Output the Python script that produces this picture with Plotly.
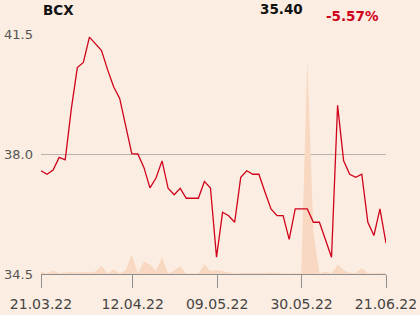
import plotly.graph_objects as go

# ---- data ----
idx = list(range(58))
price = [37.51, 37.41, 37.53, 37.90, 37.83, 39.30, 40.52, 40.67, 41.41, 41.22,
         41.02, 40.46, 39.96, 39.62, 38.82, 38.01, 38.00, 37.61, 37.01, 37.30,
         37.80, 37.00, 36.81, 37.00, 36.71, 36.71, 36.71, 37.20, 37.01, 34.99,
         36.30, 36.20, 36.01, 37.32, 37.51, 37.41, 37.41, 36.89, 36.40, 36.20,
         36.20, 35.51, 36.40, 36.40, 36.40, 36.01, 36.01, 35.50, 34.99, 39.42,
         37.80, 37.41, 37.32, 37.41, 36.01, 35.62, 36.40, 35.40]
volume = [2000, 500, 3500, 1000, 1500, 2000, 1500, 2000, 1500, 2500,
          8000, 500, 4500, 500, 4000, 19500, 500, 12500, 9500, 3000,
          16500, 500, 3500, 7500, 500, 500, 500, 9500, 3000, 4000,
          3000, 1500, 500, 1000, 1000, 500, 500, 1000, 1500, 1000,
          500, 500, 1000, 500, 214000, 43000, 500, 2500, 500, 9500,
          4000, 1000, 1000, 6000, 500, 1000, 1000, 500]
tick_pos = [0, 15.15, 29.1, 43.05, 57]
tick_text = ["21.03.22", "12.04.22", "09.05.22", "30.05.22", "21.06.22"]
y_ticks = [34.5, 38.0, 41.5]
y_ticktext = ["34.5", "38.0", "41.5"]
name = "BCX"
last_price = "35.40"
change = "-5.57%"

BG = "#fbede1"
FONT = "DejaVu Sans"

fig = go.Figure()
fig.add_trace(go.Scatter(x=idx, y=volume, mode="lines", fill="tozeroy",
                         line=dict(width=0, color="#f7d7bf"),
                         fillcolor="#f8d8c1", yaxis="y", hoverinfo="skip",
                         showlegend=False))
fig.add_trace(go.Scatter(x=idx, y=price, mode="lines",
                         line=dict(color="#d0021b", width=1.3),
                         yaxis="y2", showlegend=False))

fig.update_layout(
    width=420, height=315,
    margin=dict(l=41, r=34, t=34, b=41, autoexpand=False),
    paper_bgcolor=BG, plot_bgcolor=BG,
    font=dict(family=FONT, color="#444444"),
    xaxis=dict(range=[0, 57], tickvals=tick_pos, ticktext=tick_text,
               showgrid=False, zeroline=False, showline=True, automargin=False,
               linecolor="#8f8f8f", linewidth=1, ticks="outside",
               ticklen=13, tickcolor="#8f8f8f", tickwidth=1,
               ticklabelstandoff=4,
               tickfont=dict(size=14, color="#444444", family=FONT)),
    yaxis=dict(range=[0, 240000], visible=False, showgrid=False,
               zeroline=False, fixedrange=True, automargin=False),
    yaxis2=dict(range=[34.5, 41.5], overlaying="y", side="left",
                tickvals=y_ticks, ticktext=y_ticktext, showgrid=True,
                automargin=False,
                gridcolor="#b9b3ad", gridwidth=1, zeroline=False,
                showline=False, ticks="", ticklabelstandoff=7,
                tickfont=dict(size=13, color="#555555", family=FONT)),
    annotations=[
        dict(text="<b>" + name + "</b>", xref="paper", yref="paper",
             x=0, y=1.101, xanchor="left", yanchor="middle", showarrow=False,
             font=dict(size=13.5, color="#111111", family=FONT)),
        dict(text="<b>" + last_price + "</b>", xref="paper", yref="paper",
             x=0.765, y=1.105, xanchor="right", yanchor="middle",
             showarrow=False, font=dict(size=13.5, color="#111111", family=FONT)),
        dict(text="<b>" + change + "</b>", xref="paper", yref="paper",
             x=0.986, y=1.076, xanchor="right", yanchor="middle",
             showarrow=False, font=dict(size=13.5, color="#d0021b", family=FONT)),
    ],
)

fig.write_html("out.html")
